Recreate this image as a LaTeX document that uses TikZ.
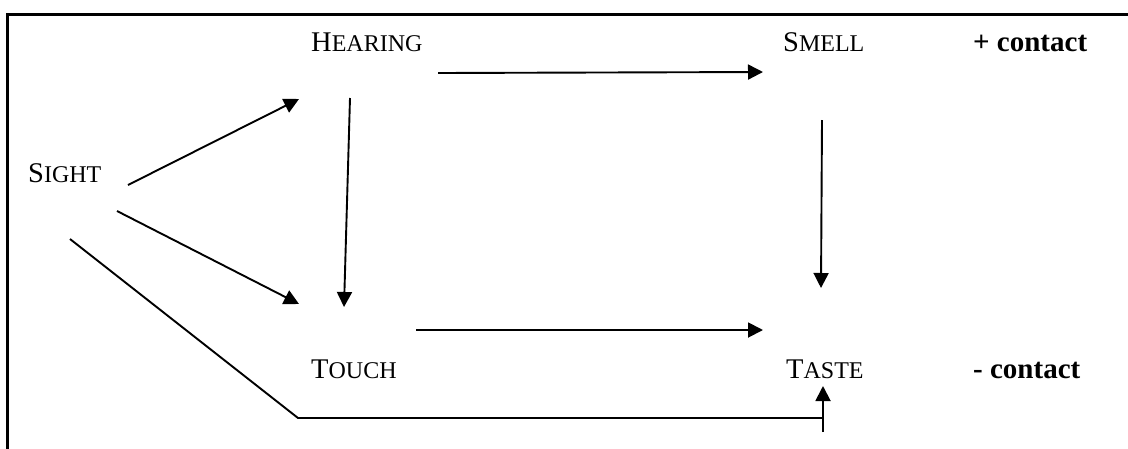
\documentclass[tikz,border=0pt]{standalone}
\usepackage{fontspec}
\setmainfont{Liberation Serif}
\usetikzlibrary{arrows.meta,calc}
% caps-and-small-caps label: first letter full size, the rest as smaller capitals
\newcommand\capsc[2]{#1{\fontsize{24}{24}\selectfont #2}}
\begin{document}
\begin{tikzpicture}[x=1pt,y=-1pt,
  sense/.style={inner sep=0pt,anchor=base west,font=\fontsize{28.5}{30}\selectfont},
  tag/.style={inner sep=0pt,anchor=base west,font=\fontsize{29}{30}\selectfont\bfseries},
  link/.style={line width=1.9pt},
  arrow/.style={link,-{Triangle[length=15pt,width=15pt]}}]
\useasboundingbox (0,0) rectangle (1128,448);
\begin{scope}
  \clip (0,0) rectangle (1128,448);
  \draw[line width=2.6pt] (7.5,460) -- (7.5,14.5) -- (1140,14.5);
\end{scope}

% senses
\node[sense] (sight)   at (28,182)  {\capsc{S}{IGHT}};
\node[sense] (hearing) at (311,51)  {\capsc{H}{EARING}};
\node[sense] (smell)   at (783,51)  {\capsc{S}{MELL}};
\node[sense] (touch)   at (311,378) {\capsc{T}{OUCH}};
\node[sense] (taste)   at (786,378) {\capsc{T}{ASTE}};

% contact labels
\node[tag] (plus)  at (973,51)  {+ contact};
\node[tag] (minus) at (973,378) {- contact};

% connectors
\draw[arrow] ($(sight.base west)+(100,3)$)   -- ($(hearing.base west)+(-12,48)$);
\draw[arrow] ($(sight.base west)+(89,29)$)   -- ($(touch.base west)+(-12,-74)$);
\draw[arrow] ($(hearing.base west)+(39,47)$) -- ($(touch.base west)+(33,-71)$);
\draw[arrow] ($(hearing.base west)+(127,22)$) -- ($(smell.base west)+(-20,21)$);
\draw[arrow] ($(smell.base west)+(39,69)$)   -- ($(taste.base west)+(35,-90)$);
\draw[arrow] ($(touch.base west)+(105,-48)$) -- ($(taste.base west)+(-23,-48)$);

% long route from sight below touch up into taste
\coordinate (bend) at ($(touch.base west)+(-13,40)$);
\coordinate (join) at ($(taste.base west)+(37,40)$);
\coordinate (tail) at ($(taste.base west)+(37,54)$);
\draw[link] ($(sight.base west)+(42,57)$) -- (bend) -- (join);
\draw[arrow] (tail) -- ($(taste.base west)+(37,8)$);
\end{tikzpicture}
\end{document}
